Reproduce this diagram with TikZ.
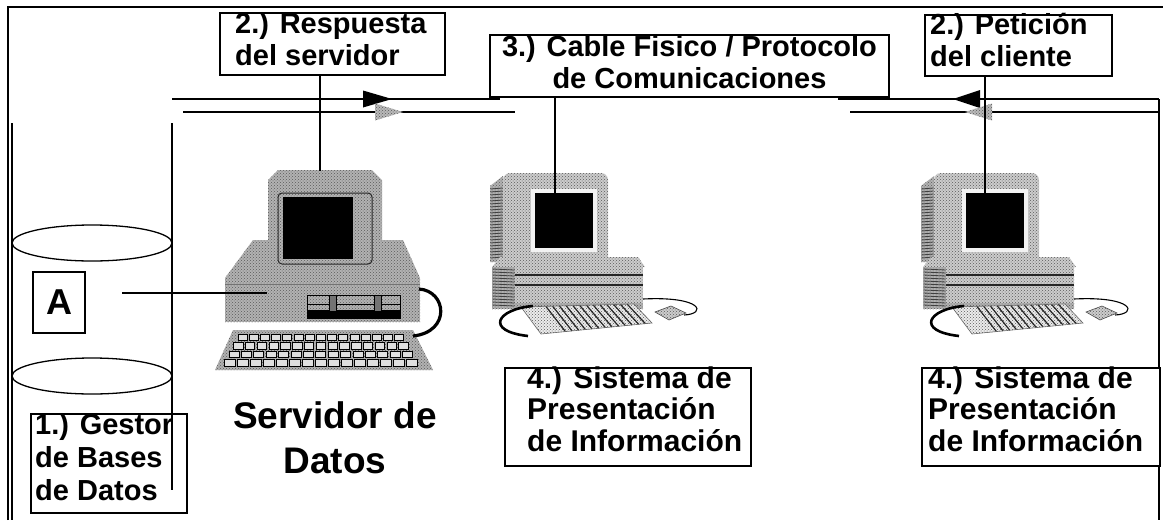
\documentclass[tikz,border=0pt]{standalone}
\usepackage{fontspec}
\setmainfont{Liberation Sans}
\usetikzlibrary{calc,patterns}
\definecolor{stip}{gray}{0.70}
\definecolor{stiplt}{gray}{0.80}
\definecolor{stipdk}{gray}{0.45}
\tikzset{
  frameline/.style={line width=1.3pt},
  box/.style={draw, line width=1.4pt, fill=white, rectangle, inner sep=0pt, outer sep=0pt, anchor=north west},
  lbl/.style={inner sep=0pt, font=\fontsize{29}{32}\selectfont\bfseries},
  syslbl/.style={inner sep=0pt, font=\fontsize{30}{31.5}\selectfont\bfseries},
  biglbl/.style={inner sep=0pt, font=\fontsize{37}{45}\selectfont\bfseries},
  wire/.style={line width=1.4pt},
  dither/.style={fill=#1, postaction={pattern=crosshatch dots, pattern color=black!65}},
  keycap/.style={fill=white!75!gray, draw=black, line width=0.7pt},
  clientpc/.pic={
    % monitor side with vents
    \path[dither=stip] (490,186) -- (503,176) -- (503,262) -- (490,262) -- cycle;
    \foreach \v in {0,...,23}{\draw[black!75, line width=0.8pt] (490.5,189+3*\v) -- (502.5,188+3*\v);}
    % monitor front
    \path[dither=stiplt, rounded corners=7pt] (503,173) rectangle (608,264);
    \fill[white!90!gray] (531,189) rectangle (597,252);
    \fill[black] (535,193) rectangle (593,248);
    % base unit
    \path[dither=stiplt] (500,257) -- (638,257) -- (645,267) -- (492,267) -- cycle;
    \path[dither=stip] (492,267) rectangle (515,309);
    \foreach \v in {0,...,12}{\draw[black!75, line width=0.8pt] (492.5,269+3*\v) -- (514.5,270+3*\v);}
    \path[dither=stiplt] (515,267) rectangle (643,303);
    \draw[black!85, line width=1.3pt] (515,275) -- (643,275);
    \draw[black!85, line width=1.3pt] (515,285) -- (643,285);
    \path[dither=stip] (515,303) rectangle (643,309);
    % keyboard
    \coordinate (-ktl) at (521,307);
    \coordinate (-ktr) at (634,304);
    \coordinate (-kbr) at (652,323);
    \coordinate (-kbl) at (541,334);
    \path[dither=white!85!gray] (-ktl) -- (-ktr) -- (-kbr) -- (-kbl) -- cycle;
    \foreach \t in {0.22,0.28,...,0.95}{\draw[black!85, line width=1.2pt] ($(-ktl)!\t!(-ktr)$) -- ($(-kbl)!\t!(-kbr)$);}
    \draw[black!60, line width=0.6pt] (-ktl) -- (-ktr) -- (-kbr) -- (-kbl) -- cycle;
    % keyboard cable
    \draw[line width=2.6pt] (533,306) .. controls (497,309) and (484,331) .. (528,336);
    % mouse and cord
    \draw[line width=1.1pt] (643,299) .. controls (703,296) and (707,314) .. (684,315);
    \path[dither=stiplt, draw=black!70, line width=0.6pt] (655,312) -- (671,306) -- (686,313) -- (669,320) -- cycle;
  }
}
\begin{document}
\begin{tikzpicture}[x=1pt,y=-1pt]
\useasboundingbox (0,0) rectangle (1163,520);

% outer frame
\draw[frameline] (8,520) -- (8,7) -- (1163,7);
\draw[frameline] (1159,99) -- (1159,520);

% database cylinder
\draw[frameline] (12,123) -- (12,520);
\draw[frameline] (172,123) -- (172,490);
\draw[line width=1.3pt] (92,243) ellipse [x radius=80pt, y radius=18pt];
\draw[line width=1.3pt] (92,376) ellipse [x radius=80pt, y radius=18pt];
\node[draw, line width=1.4pt, minimum width=52pt, minimum height=61pt, inner sep=0pt,
      font=\fontsize{36}{40}\selectfont\bfseries] (abox) at (59,302.5) {A};

% data server
\path[dither=stip] (253,240) -- (403,240) -- (420,278) -- (225,278) -- cycle;
\path[dither=stip] (225,278) rectangle (420,322);
\draw[black!55, line width=0.8pt] (225,284) -- (420,284);
\path[dither=stip] (268,180) -- (278,170) -- (372,170) -- (382,180) -- (382,262) -- (268,262) -- cycle;
\draw[black!85, line width=1pt, rounded corners=4pt] (278,193) rectangle (372,264);
\fill[black] (283,197) rectangle (353,259);
\draw[black, line width=1pt] (307,295) rectangle (400,318);
\fill[black] (307,310) rectangle (400,318);
\draw[line width=1pt] (307,304) -- (400,304);
\filldraw[fill=stipdk, draw=black, line width=0.7pt] (329,295) rectangle (336,311);
\filldraw[fill=stipdk, draw=black, line width=0.7pt] (374,295) rectangle (381,311);
\path[dither=stip] (233,330) -- (413,330) -- (433,370) -- (215,370) -- cycle;
\foreach \r in {0,1,2,3}{
  \foreach \k in {0,...,14}{
    \pgfmathsetmacro{\xl}{238-4.5*\r+\k*(11.2+0.6*\r)}
    \pgfmathsetmacro{\yt}{334+8.5*\r}
    \draw[keycap] (\xl,\yt) rectangle ++(9+0.5*\r,6.5);
  }
}
\draw[line width=3.2pt] (419,289) .. controls (447,291) and (451,332) .. (413,336);

% client workstations
\pic at (0,0) {clientpc};
\pic at (431,0) {clientpc};

% network cable
\coordinate (la1) at (172,99);  \coordinate (la2) at (500,99);
\coordinate (lb1) at (183,112); \coordinate (lb2) at (515,112);
\coordinate (ra1) at (838,99);  \coordinate (ra2) at (1159,99);
\coordinate (rb1) at (850,112); \coordinate (rb2) at (1159,112);
\draw[wire] (la1) -- (la2);
\draw[wire] (lb1) -- (lb2);
\draw[wire] (ra1) -- (ra2);
\draw[wire] (rb1) -- (rb2);
\fill[black] (363,90.5) -- (392,99) -- (363,107.5) -- cycle;
\path[dither=gray!55] (375,103.5) -- (403,112) -- (375,120.5) -- cycle;
\fill[black] (980,90) -- (953,99) -- (980,108) -- cycle;
\path[dither=gray!55] (992,103.5) -- (965,112) -- (992,120.5) -- cycle;

% labelled boxes
\node[box, minimum width=225pt, minimum height=62pt] (resp) at (220,13) {};
\node[lbl, anchor=base west] (resptxt) at (235,33)
  {\begin{tabular}[t]{@{}l@{}}2.) Respuesta\\del servidor\end{tabular}};
\node[box, minimum width=399pt, minimum height=62pt] (cab) at (490,35) {};
\node[lbl, anchor=base] (cabtxt) at (689.5,56)
  {\begin{tabular}[t]{@{}c@{}}3.) Cable Fisico / Protocolo\\de Comunicaciones\end{tabular}};
\node[box, minimum width=187pt, minimum height=61pt] (pet) at (925,15) {};
\node[lbl, anchor=base west] (pettxt) at (930,34)
  {\begin{tabular}[t]{@{}l@{}}2.) Petición\\del cliente\end{tabular}};
\node[box, fill=none, minimum width=156pt, minimum height=99pt] (ges) at (31,414) {};
\node[lbl, font=\fontsize{29}{33}\selectfont\bfseries, anchor=base west] (gestxt) at (35,434)
  {\begin{tabular}[t]{@{}l@{}}1.) Gestor\\de Bases\\de Datos\end{tabular}};
\node[box, minimum width=246pt, minimum height=98pt] (sys1) at (505,368) {};
\node[syslbl, anchor=base west] (sys1txt) at (527,388)
  {\begin{tabular}[t]{@{}l@{}}4.) Sistema de\\Presentación\\de Información\end{tabular}};
\node[box, minimum width=238pt, minimum height=98pt] (sys2) at (922,368) {};
\node[syslbl, anchor=base west] (sys2txt) at (928,388)
  {\begin{tabular}[t]{@{}l@{}}4.) Sistema de\\Presentación\\de Información\end{tabular}};
\node[biglbl, anchor=base] (srvtxt) at (335,428)
  {\begin{tabular}[t]{@{}c@{}}Servidor de\\Datos\end{tabular}};

% connectors
\coordinate (srvtop) at (320,171);
\coordinate (scr1) at (555,215);
\coordinate (scr2) at (985,215);
\coordinate (ain) at (122,293);
\coordinate (srvcase) at (267,293);
\draw[wire] (resp.south -| srvtop) -- (srvtop);
\draw[wire] (cab.south -| scr1) -- (scr1);
\draw[wire] (pet.south -| scr2) -- (scr2);
\draw[wire] (ain) -- (srvcase);
\end{tikzpicture}
\end{document}
